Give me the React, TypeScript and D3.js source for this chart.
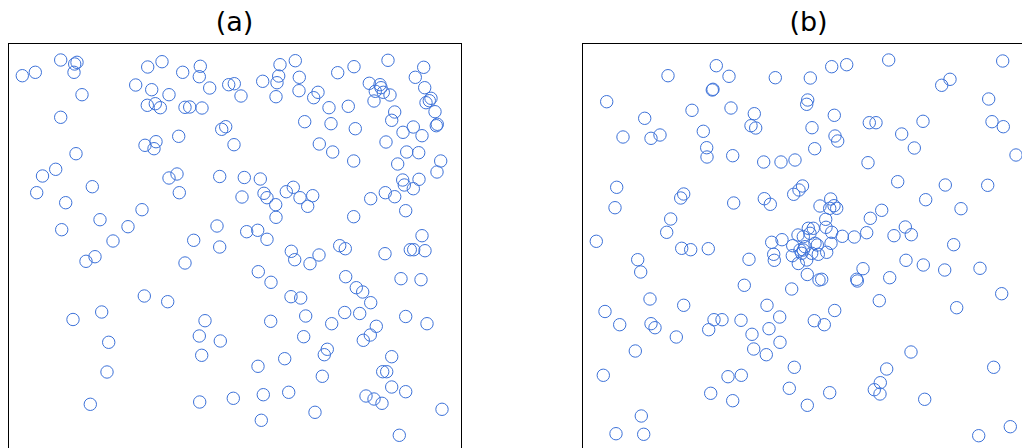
import React from "react";
import * as d3 from "d3";

// Panel (a): uniform-looking scatter. [x, y] in data units (0..453 each axis, y up)
const pointsA: [number, number][] = [
  [14.3, 420.3], [27.3, 423.7], [52.7, 436], [66.7, 432], [69, 433.7], [66, 423.7], [74, 401.3],
  [52.7, 378.7], [68, 342.3], [47.7, 326.7], [34.5, 320], [127.7, 411], [139.7, 429], [154, 434.3],
  [143.7, 406.3], [161, 401.3], [139.3, 390.7], [147.3, 392.3], [152.3, 388.3], [174.7, 423.7],
  [192.3, 429.7], [191.3, 419.3], [201.7, 408], [177, 388.7], [181.7, 389], [194, 388], [220.7, 411.3],
  [226.3, 412.3], [233, 400], [213.7, 366.7], [217.7, 369.3], [226, 351.3], [170.7, 359.7], [137, 350.7],
  [148, 354.3], [146, 347.3], [161, 318], [169, 322], [211.7, 319.5], [272, 431.3], [287.3, 435.3],
  [254.7, 414.7], [270.7, 420], [269, 413.3], [291.3, 418.7], [291, 405.3], [268, 399.3], [305.7, 398.3],
  [310, 403.7], [329.7, 423.3], [346, 429.3], [380, 435.7], [361.3, 412.7], [372, 411.3], [373, 408.3],
  [367.3, 404.7], [375.3, 403.7], [382, 401], [366, 395], [407.3, 418.7], [415.7, 428.7], [416.7, 408.3],
  [423, 397.7], [418, 393.3], [421.3, 395.3], [427, 384.3], [428.3, 370.3], [429.3, 371.7], [321, 388.3],
  [340.3, 389.7], [296.7, 374.3], [323, 372.3], [347.3, 367.3], [386.7, 384], [383.7, 375.7], [405.3, 369],
  [395, 363.7], [414, 360.3], [378, 354], [311.3, 352], [324.7, 344], [345.7, 335], [398.7, 344],
  [410.7, 343.3], [389.7, 332], [432.7, 335], [429, 324], [236.3, 318.5], [252.3, 317], [394.7, 316],
  [411, 316.7], [28.7, 303.3], [57.7, 293.3], [84.3, 309.3], [53.7, 266.3], [92, 276.3], [134, 286.3],
  [120, 269.3], [105, 255], [87, 239.3], [78, 234.7], [171.3, 303.3], [234, 299], [209, 270], [211.7, 249],
  [185.7, 255.7], [177, 233], [136.3, 200], [159.7, 194.3], [93.7, 184], [65, 176.5], [256, 302.7],
  [259, 298.3], [267.7, 291.3], [268, 278.7], [278.3, 304.3], [285.3, 308.7], [292, 298.3], [304.7, 300.3],
  [299.7, 289.7], [238.7, 264.3], [249.7, 265.7], [259, 256.7], [283.3, 244.7], [286.7, 236.3], [302, 232.3],
  [311, 241], [331.7, 250.3], [337.3, 247.3], [345.7, 279.3], [362.7, 297.3], [377.3, 303.3], [386.7, 299.3],
  [396.3, 311], [405.3, 307.3], [397.7, 285.3], [414, 260.3], [402.3, 246.3], [405.7, 246.3], [417, 245.3],
  [377, 242.3], [250.3, 224.3], [263, 213.7], [337.7, 219.3], [348.3, 208.3], [354.7, 204], [362.7, 193.3],
  [393, 217.3], [413, 216.3], [283, 199.3], [292.7, 198], [297.7, 180], [336.7, 183.5], [351.7, 182.5],
  [397.7, 179.5], [100.7, 153.7], [99, 124], [82.3, 91.7], [197, 175.3], [191.3, 160], [212.3, 155],
  [193.7, 140.7], [191.7, 94], [225.3, 97.7], [262.7, 174.7], [323.7, 172.3], [295.7, 159.3], [319.3, 146.7],
  [316.3, 141.3], [276.7, 137.3], [250, 129.7], [314.3, 119.7], [368.3, 169.7], [362.3, 161], [355.3, 155.7],
  [419, 172.3], [383.7, 139.3], [374.7, 124.3], [378.7, 124.3], [383.7, 109], [397.7, 104.3], [358, 100],
  [366, 97], [374, 92.7], [255.3, 101.3], [280.7, 103.7], [307, 83.7], [253.3, 75.7], [391.3, 60.7],
  [434, 86.7],
];

// Panel (b): scatter with a central cluster
const pointsB: [number, number][] = [
  [24.7, 394.3], [86, 420.3], [134.3, 430.3], [147, 419.7], [130.3, 406], [131, 406.7], [193.3, 418.3],
  [62.7, 377.7], [41, 359], [69, 357.7], [78, 361], [110, 385.7], [149, 388], [121.3, 364.7], [124.7, 348.3],
  [125, 339], [150.7, 340.3], [172.3, 382.3], [169, 370.3], [173.7, 368], [181.7, 334], [199, 334],
  [213, 336], [225.7, 396], [224.7, 391.7], [249.7, 429.3], [264.7, 431.3], [306.7, 436], [228.3, 418],
  [252.3, 380.7], [230, 368.3], [253, 360], [255.7, 355], [232.7, 347.3], [287.3, 373.3], [294, 373.3],
  [319.7, 362], [341, 374.7], [332.3, 348], [286, 333.3], [359.7, 410.7], [368, 416.7], [420.7, 435],
  [406.7, 397], [410, 374.3], [421.3, 369.3], [434, 341], [315.7, 314.3], [34.7, 308.7], [33, 288.3],
  [14.3, 254.7], [55.7, 236.3], [58.7, 224], [68, 197], [23, 184.5], [88.7, 277], [84.7, 263.7],
  [98.7, 298], [101.7, 302], [99.7, 247.7], [108.7, 246.3], [126.3, 247.3], [151.7, 293], [182.3, 297.3],
  [188.3, 291.7], [167, 236.7], [162.3, 210.7], [101.7, 190.7], [185, 190.7], [209.7, 207], [197.7, 179],
  [211.7, 301.7], [217, 306], [220.5, 310], [189.7, 253.7], [200, 256.3], [191.7, 241.7], [192.3, 235.7],
  [210.7, 250.3], [216, 261], [210.3, 240.3], [363.3, 311], [405.7, 310.7], [343.7, 296.3], [379, 287.3],
  [299.7, 285.7], [288.3, 277.7], [248.7, 297], [238, 290], [247.7, 287.7], [252, 290.3], [254.7, 287.7],
  [243.7, 276.7], [244, 268.7], [249.7, 263.7], [260.3, 259.7], [272.3, 259], [284.7, 263.3], [323.3, 269],
  [329.3, 261.3], [312, 260.3], [371.7, 251.3], [226.3, 267.7], [231.3, 267.7], [228, 262.7], [221.3, 259.3],
  [233, 252.7], [235.3, 251], [223, 249.3], [218, 246], [219.7, 242.7], [229.7, 242.7], [236.3, 241.7],
  [244.7, 243.7], [249, 252.7], [224.7, 236], [216.3, 232.5], [221.3, 246], [225.3, 221.5], [237, 216],
  [239.7, 216.7], [274.7, 216.7], [275.3, 215], [281, 227.3], [307.7, 218.3], [324, 235.7], [341.3, 231],
  [362.7, 226], [398, 227.7], [419.7, 202.3], [297.3, 195.3], [374.7, 188.3], [252.7, 185.5], [37.7, 171.3],
  [69, 172.3], [73, 168.3], [94.3, 159], [53.3, 145], [21.3, 120.7], [59.3, 80], [34, 62.3], [61.7, 61.7],
  [132, 176.3], [140, 176.3], [126.7, 166.3], [159, 175.7], [170, 161.7], [187, 167.3], [171.7, 147],
  [184.3, 141.3], [198, 153.7], [212.3, 128.7], [146, 119.3], [159.3, 120.7], [128.7, 102.7], [150.7, 95.3],
  [207.3, 107.7], [225.3, 90.7], [232.3, 175.3], [242.3, 171.3], [329, 144], [411.7, 128.7], [304.7, 127],
  [298.3, 113.3], [292.3, 106.3], [298, 102], [247.7, 103.3], [342.7, 96.7], [396.7, 60.3], [428.3, 69.3],
];

const panelTitles = ["(a)", "(b)"];

const W = 1022;
const H = 448;
const PANEL_SIZE = 453;
const TOP = 43;
const LEFTS = [8, 582];
const COLOR = "#3d72d9";

function Panel({ left, title, points }: { left: number; title: string; points: [number, number][] }) {
  const x = d3.scaleLinear().domain([0, 453]).range([left, left + PANEL_SIZE]);
  const y = d3.scaleLinear().domain([0, 453]).range([TOP + PANEL_SIZE, TOP]);
  return (
    <g>
      <text
        x={left + PANEL_SIZE / 2}
        y={31}
        textAnchor="middle"
        fontFamily="DejaVu Sans"
        fontSize={27}
        fill="#000"
      >
        {title}
      </text>
      <rect
        x={left + 0.5}
        y={TOP + 0.5}
        width={PANEL_SIZE}
        height={PANEL_SIZE}
        fill="none"
        stroke="#000"
        strokeWidth={1}
      />
      {points.map((p, i) => (
        <circle
          key={i}
          cx={x(p[0])}
          cy={y(p[1])}
          r={6.2}
          fill="none"
          stroke={COLOR}
          strokeWidth={1}
        />
      ))}
    </g>
  );
}

export default function App() {
  return (
    <svg
      width={W}
      height={H}
      style={{ position: "absolute", left: 0, top: 0, display: "block", overflow: "hidden", background: "#fff" }}
    >
      <Panel left={LEFTS[0]} title={panelTitles[0]} points={pointsA} />
      <Panel left={LEFTS[1]} title={panelTitles[1]} points={pointsB} />
    </svg>
  );
}
